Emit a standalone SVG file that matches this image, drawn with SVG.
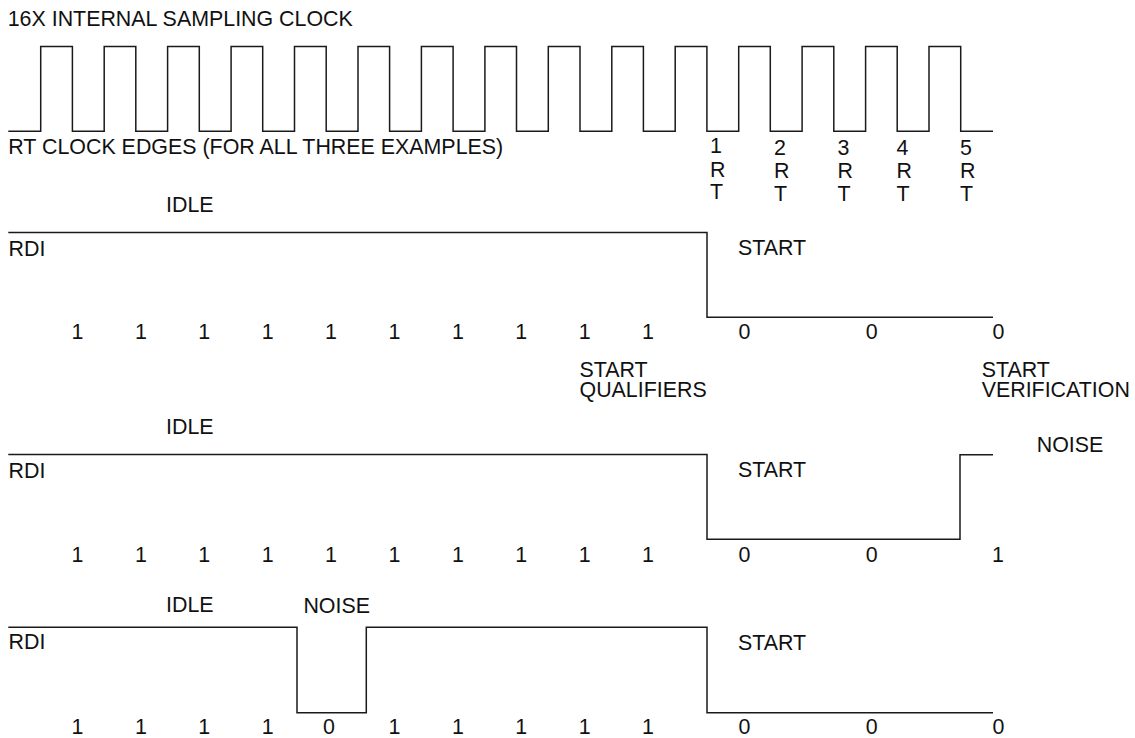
<svg xmlns="http://www.w3.org/2000/svg" width="1135" height="738" viewBox="0 0 1135 738">
<style>
text{font-family:"Liberation Sans",Arial,sans-serif;font-size:21.4px;fill:#111}
.w{fill:none;stroke:#1a1a1a;stroke-width:1.5;stroke-linejoin:miter}
</style>
<rect width="1135" height="738" fill="#fff"/>
<g id="clock">
<text x="7.7" y="26">16X INTERNAL SAMPLING CLOCK</text>
<path class="w" d="M8.3,131.3 H40.7 V46.5 H72.4 V131.3 H104.2 V46.5 H135.8 V131.3 H167.6 V46.5 H199.3 V131.3 H231.1 V46.5 H262.7 V131.3 H294.5 V46.5 H326.2 V131.3 H358 V46.5 H389.6 V131.3 H421.4 V46.5 H453.1 V131.3 H484.9 V46.5 H516.5 V131.3 H548.3 V46.5 H580 V131.3 H611.8 V46.5 H643.4 V131.3 H675.2 V46.5 H706.9 V131.3 H738.7 V46.5 H770.3 V131.3 H802.1 V46.5 H833.8 V131.3 H865.6 V46.5 H897.2 V131.3 H929 V46.5 H960.7 V131.3 H993"/>
<text x="8.3" y="154">RT CLOCK EDGES (FOR ALL THREE EXAMPLES)</text>
<g id="rt-labels">
<text x="710" y="153">1</text><text x="710" y="177">R</text><text x="710" y="199">T</text>
<text x="774" y="155">2</text><text x="774" y="178">R</text><text x="774" y="201">T</text>
<text x="837.5" y="155">3</text><text x="837.5" y="178">R</text><text x="837.5" y="201">T</text>
<text x="896.5" y="155">4</text><text x="896.5" y="178">R</text><text x="896.5" y="201">T</text>
<text x="960" y="155">5</text><text x="960" y="178">R</text><text x="960" y="201">T</text>
</g>
</g>
<g id="example1">
<text x="166" y="212">IDLE</text>
<path class="w" d="M8.3,232.5 H707 V317.3 H993"/>
<text x="8.5" y="256">RDI</text>
<text x="738" y="255">START</text>
<g id="bits1">
<text x="71.5" y="339">1</text><text x="134.9" y="339">1</text><text x="198.3" y="339">1</text><text x="261.7" y="339">1</text><text x="325.1" y="339">1</text><text x="388.5" y="339">1</text><text x="451.9" y="339">1</text><text x="515.3" y="339">1</text><text x="578.7" y="339">1</text><text x="642.1" y="339">1</text>
<text x="738.4" y="339">0</text><text x="865.8" y="339">0</text><text x="992.4" y="339">0</text>
</g>
<text x="579.5" y="377">START</text><text x="579.5" y="397">QUALIFIERS</text>
<text x="981.7" y="377">START</text><text x="981.7" y="397">VERIFICATION</text>
</g>
<g id="example2">
<text x="166" y="434">IDLE</text>
<text x="1036.7" y="451.7">NOISE</text>
<path class="w" d="M8.3,454.5 H707 V539.3 H960 V454.8 H993"/>
<text x="8.5" y="477.5">RDI</text>
<text x="738" y="476.7">START</text>
<g id="bits2">
<text x="71.5" y="562.3">1</text><text x="134.9" y="562.3">1</text><text x="198.3" y="562.3">1</text><text x="261.7" y="562.3">1</text><text x="325.1" y="562.3">1</text><text x="388.5" y="562.3">1</text><text x="451.9" y="562.3">1</text><text x="515.3" y="562.3">1</text><text x="578.7" y="562.3">1</text><text x="642.1" y="562.3">1</text>
<text x="738.4" y="562.3">0</text><text x="865.8" y="562.3">0</text><text x="992" y="562.3">1</text>
</g>
</g>
<g id="example3">
<text x="166" y="612">IDLE</text>
<text x="303.4" y="612.8">NOISE</text>
<path class="w" d="M8.3,627.3 H297 V712.7 H366.3 V627.3 H707 V712.7 H993"/>
<text x="8.5" y="649.3">RDI</text>
<text x="738" y="649.6">START</text>
<g id="bits3">
<text x="71.5" y="734">1</text><text x="134.9" y="734">1</text><text x="198.3" y="734">1</text><text x="261.7" y="734">1</text><text x="323" y="734">0</text><text x="388.5" y="734">1</text><text x="451.9" y="734">1</text><text x="515.3" y="734">1</text><text x="578.7" y="734">1</text><text x="642.1" y="734">1</text>
<text x="738.4" y="734">0</text><text x="865.8" y="734">0</text><text x="992.4" y="734">0</text>
</g>
</g>
</svg>
